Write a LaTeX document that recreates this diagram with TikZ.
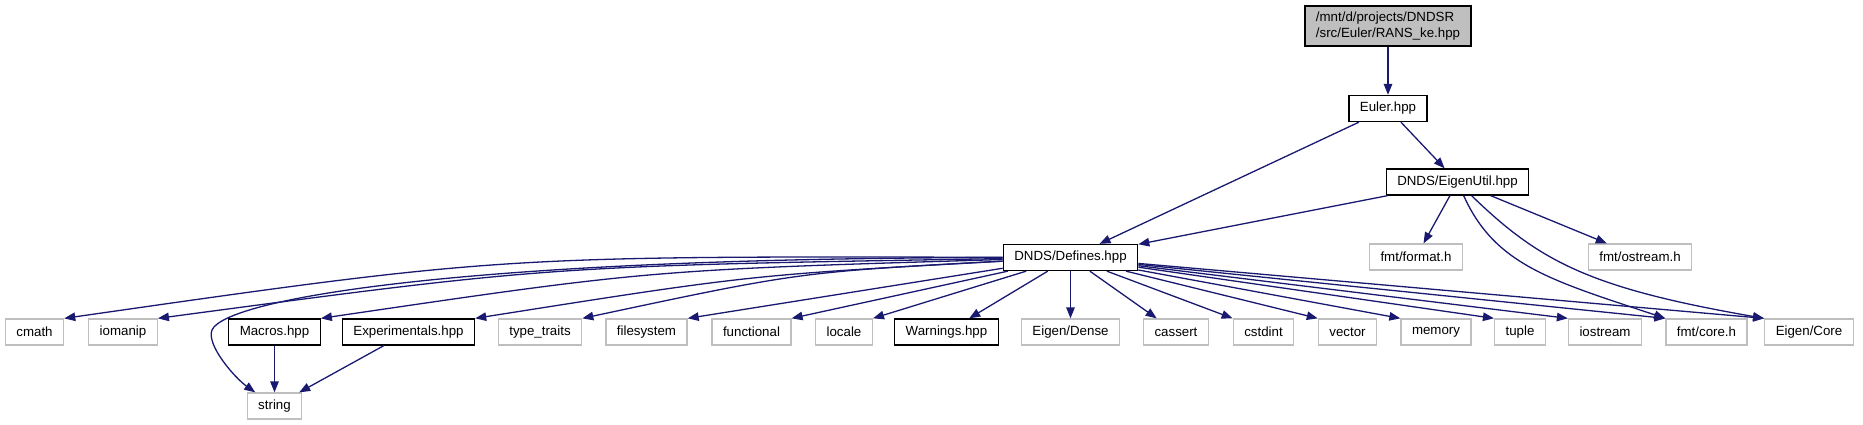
\documentclass[tikz,border=0pt]{standalone}
\usepackage{fontspec}
\setmainfont{Liberation Sans}
\usetikzlibrary{arrows.meta}
\definecolor{edgeblue}{HTML}{191970}
\definecolor{grey75}{HTML}{BFBFBF}

\begin{document}
\begin{tikzpicture}[x=1pt, y=-1pt,
        file/.style={draw, line width=1.3pt, minimum height=26pt, inner xsep=11pt, inner ysep=0pt, font=\fontsize{13.3}{15.5}\selectfont},
        sys/.style={file, draw=grey75},
        doc/.style={file, draw=black},
        edge/.style={draw=edgeblue, line width=1.3pt, -{Triangle[length=11pt, width=8.5pt]}}]
    \useasboundingbox (0,0) rectangle (1863,425);

    \node[doc, fill=grey75, align=left, minimum height=40pt, inner ysep=3pt] (ranske) at (1388,26) {/mnt/d/projects/DNDSR\\/src/Euler/RANS\_ke.hpp};
    \node[doc] (euler) at (1388,108.5) {Euler.hpp};
    \node[doc] (eigenutil) at (1457.5,182) {DNDS/EigenUtil.hpp};
    \node[doc] (defines) at (1070.5,257.5) {DNDS/Defines.hpp};
    \node[sys] (fmtformat) at (1416,257) {fmt/format.h};
    \node[sys] (fmtostream) at (1640,257) {fmt/ostream.h};

    \node[sys] (cmath) at (34.5,332) {cmath};
    \node[sys] (iomanip) at (123,332) {iomanip};
    \node[doc] (macros) at (274.5,332) {Macros.hpp};
    \node[doc] (experimentals) at (408.5,332) {Experimentals.hpp};
    \node[sys] (typetraits) at (540,332) {type\_traits};
    \node[sys] (filesystem) at (646.5,332) {filesystem};
    \node[sys] (functional) at (751.5,332) {functional};
    \node[sys] (locale) at (844,332) {locale};
    \node[doc] (warnings) at (946.5,332) {Warnings.hpp};
    \node[sys] (eigendense) at (1070.5,332) {Eigen/Dense};
    \node[sys] (cassert) at (1176,332) {cassert};
    \node[sys] (cstdint) at (1263.5,332) {cstdint};
    \node[sys] (vector) at (1347.5,332) {vector};
    \node[sys] (memory) at (1436,332) {memory};
    \node[sys] (tuple) at (1520,332) {tuple};
    \node[sys] (iostream) at (1605,332) {iostream};
    \node[sys] (fmtcore) at (1706.5,332) {fmt/core.h};
    \node[sys] (eigencore) at (1809,332) {Eigen/Core};
    \node[sys] (string) at (274.5,406) {string};

    \draw[edge] (ranske) -- (euler);
    \draw[edge] (euler) -- (defines);
    \draw[edge] (euler) -- (eigenutil);
    \draw[edge] (eigenutil) -- (defines);
    \draw[edge] (eigenutil) -- (fmtformat);
    \draw[edge] (eigenutil) -- (fmtostream);
    \draw[edge] (eigenutil) .. controls (1495,265) and (1550,280) .. (fmtcore.north west);
    \draw[edge] (eigenutil) .. controls (1540,262) and (1590,288) .. (eigencore.north west);

    \draw[edge] (defines) .. controls (500,256) .. (cmath.north east);
    \draw[edge] (defines) .. controls (550,266) .. (iomanip.north east);
    \draw[edge] (defines) .. controls (450,258) and (225,300) .. (212,330) .. controls (206,345) and (235,378) .. (string);
    \draw[edge] (defines) .. controls (650,270) .. (macros.north east);
    \draw[edge] (defines) .. controls (750,275) .. (experimentals.north east);
    \draw[edge] (defines) .. controls (800,272) .. (typetraits.north east);
    \draw[edge] (defines) -- (filesystem.north east);
    \draw[edge] (defines) -- (functional.north east);
    \draw[edge] (defines) -- (locale.north east);
    \draw[edge] (defines) -- (warnings);
    \draw[edge] (defines) -- (eigendense);
    \draw[edge] (defines) -- (cassert);
    \draw[edge] (defines) -- (cstdint.north west);
    \draw[edge] (defines) -- (vector.north west);
    \draw[edge] (defines) -- (memory.north west);
    \draw[edge] (defines) -- (tuple.north west);
    \draw[edge] (defines) -- (iostream.north west);
    \draw[edge] (defines) -- (fmtcore.north west);
    \draw[edge] (defines) -- (eigencore.north west);

    \draw[edge] (macros) -- (string);
    \draw[edge] (experimentals) -- (string);
\end{tikzpicture}
\end{document}
